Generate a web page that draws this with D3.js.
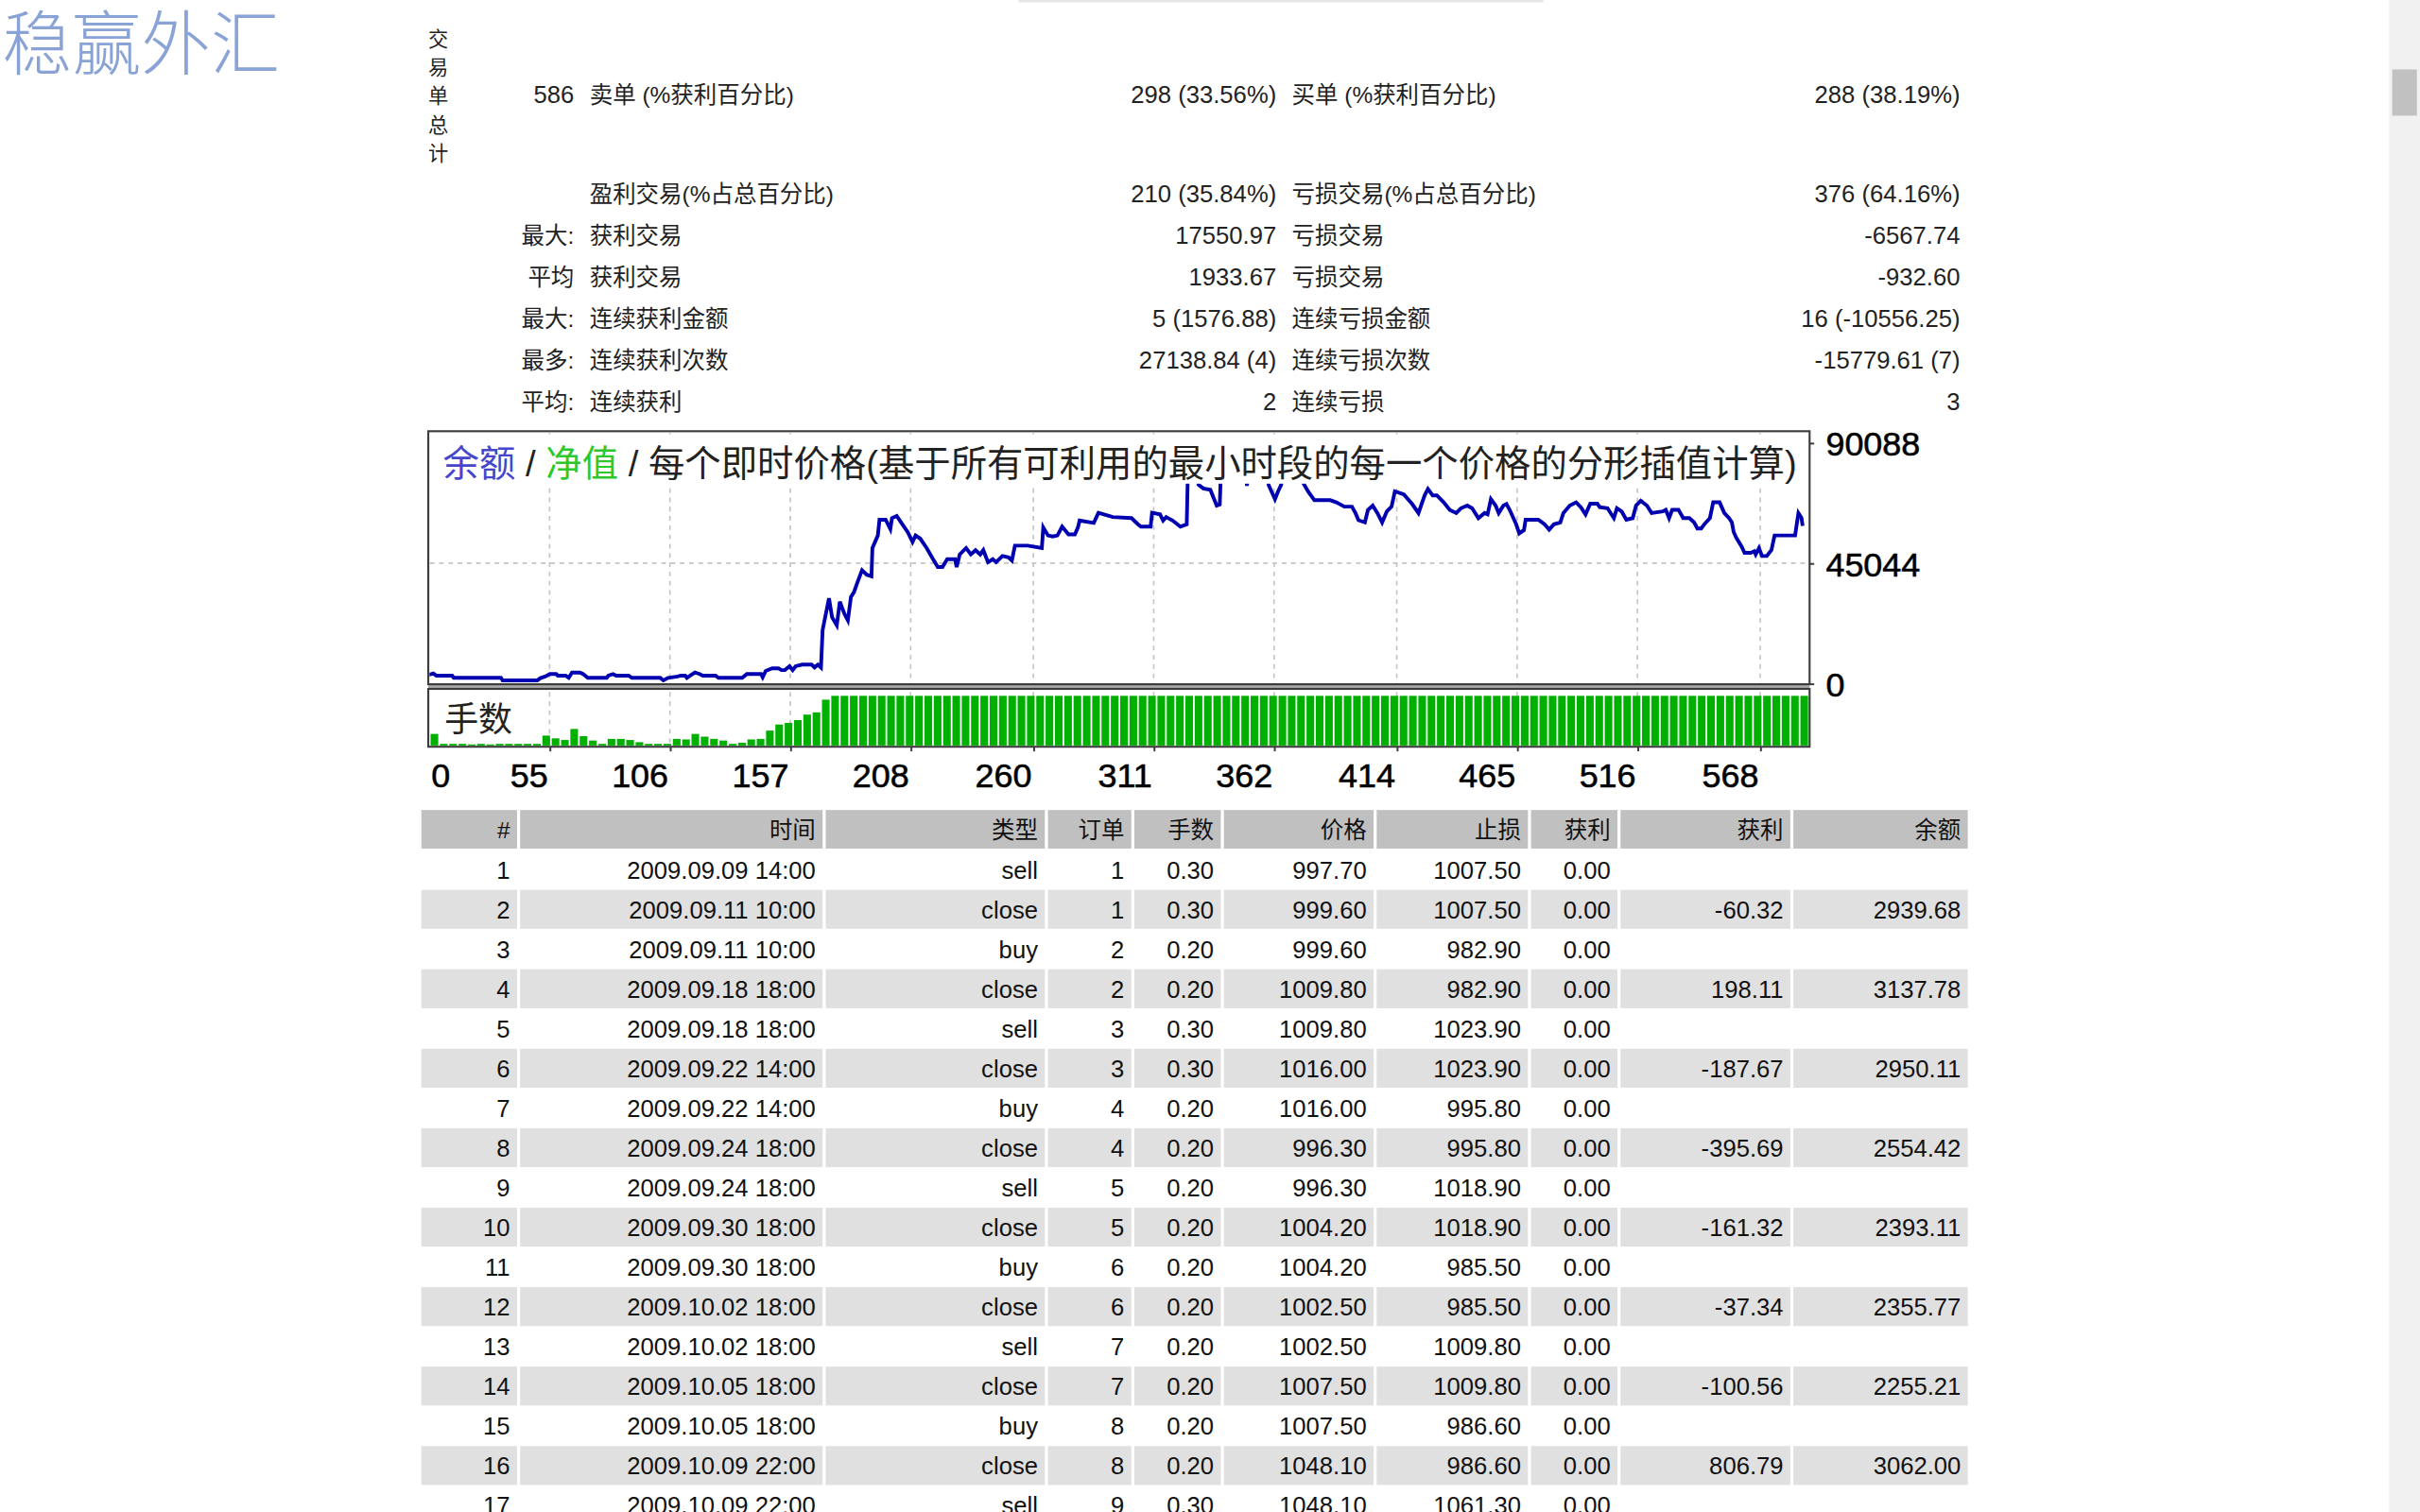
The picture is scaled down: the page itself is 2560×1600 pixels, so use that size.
<!DOCTYPE html>
<html>
<head>
<meta charset="utf-8">
<script src="https://cdn.jsdelivr.net/npm/d3@7"></script>
<style>
html, body { margin: 0; padding: 0; background: #fff; overflow: hidden; }
svg { display: block; }
text { font-family: "Liberation Sans", "Noto Sans CJK SC", sans-serif; }
</style>
</head>
<body>
<script>
// ---- summary block ----
const summaryLead = ["586", "", "最大:", "平均", "最大:", "最多:", "平均:"];
const summaryLabelA = ["卖单 (%获利百分比)", "盈利交易(%占总百分比)", "获利交易", "获利交易", "连续获利金额", "连续获利次数", "连续获利"];
const summaryValueA = ["298 (33.56%)", "210 (35.84%)", "17550.97", "1933.67", "5 (1576.88)", "27138.84 (4)", "2"];
const summaryLabelB = ["买单 (%获利百分比)", "亏损交易(%占总百分比)", "亏损交易", "亏损交易", "连续亏损金额", "连续亏损次数", "连续亏损"];
const summaryValueB = ["288 (38.19%)", "376 (64.16%)", "-6567.74", "-932.60", "16 (-10556.25)", "-15779.61 (7)", "3"];
const verticalTitle = ["交", "易", "单", "总", "计"];

// ---- chart ----
const chartTitleParts = [
  { text: "余额", color: "#4646cc" },
  { text: " / ", color: "#222" },
  { text: "净值", color: "#2ec82e" },
  { text: " / 每个即时价格(基于所有可利用的最小时段的每一个价格的分形插值计算)", color: "#222" }
];
const xTickValues = [0, 55, 106, 157, 208, 260, 311, 362, 414, 465, 516, 568];
const yTickValues = [0, 45044, 90088];
const totalTrades = 586;

// balance: [trade #, balance]
const balance = [
  [0,3000],[4,3300],[5.7,3750],[7,2940],[13.7,2940],[14.4,2120],[34.4,2120],[35.1,1170],[49.8,1170],
  [51.1,2000],[53.1,2590],[55.1,3540],[57.8,3540],[58.5,2940],[61.8,2940],[63.1,2120],[64.5,4100],
  [67.8,4100],[69.2,3540],[71.2,2120],[79.2,2120],[79.9,2940],[81.9,3540],[83.2,2940],[88.5,2940],
  [89.9,2120],[101.9,2120],[103.2,1170],[105.2,2120],[109.2,2590],[110.6,2940],[112.5,2940],[113.2,2120],
  [114.6,2940],[116.6,4100],[118.6,3540],[119.9,2940],[125.3,2940],[126.6,2120],[136.6,2120],[138.6,3540],
  [144.6,3540],[145.3,2350],[146.6,4700],[149.3,5660],[152,5660],[153.3,5000],[154.7,5000],[156.7,6470],
  [158,5000],[159.3,6470],[162,7070],[166,7070],[167.3,6000],[168.7,7070],[170,6000],
  [170.7,20000],[173.4,31900],[174.7,24800],[176.7,21800],[178,30600],[180,25900],[181.4,23600],
  [182.7,32400],[184,34200],[185.4,37700],[187.4,42400],[189.4,40700],[191.4,40100],[191.8,50700],
  [194.1,55400],[194.8,61300],[197.4,61300],[199.4,57800],[200.1,61900],[202.1,62700],[204.1,60100],
  [206.8,56600],[208.8,53000],[210.1,55400],[212.1,54200],[214.8,50700],[217.5,46500],[219.5,43600],
  [221.5,43600],[223.5,46500],[226.8,46500],[227.5,43600],[228.8,48300],[231.5,50700],[233.5,48300],
  [235.5,49900],[237.5,48300],[238.8,49900],[240.8,45400],[242.8,46500],[244.2,45400],[246.9,47700],
  [249.5,47200],[250.9,46000],[252.2,51600],[257.6,51600],[263.6,50700],[264.2,58400],[266.2,55400],
  [268.2,55000],[270.2,55400],[272.2,58700],[274.9,55800],[277.6,55800],[278.9,58400],[279.6,61000],
  [285.6,60100],[287.6,63900],[289.6,63400],[292.3,62700],[293.6,62300],[301.6,61900],[304.3,59600],
  [305.6,58700],[309.7,58700],[310.3,63900],[313.7,63300],[315,61000],[316.3,62300],[319,61000],
  [322.3,58700],[325,59600],[325.5,80000],[329,81000],[330,74400],[332,73000],[335,72500],[337.7,66600],
  [339,67000],[339.5,80000],[349.5,82000],[350.5,74000],[351.5,81000],[359,80000],[359.7,74300],
  [362.4,69000],[363.7,71900],[365,74300],[366,80000],[374,79000],[374.4,75000],[376.4,71900],
  [379.1,68600],[385.8,68600],[388.4,67800],[391.8,66200],[395,66200],[396.5,63800],[397.8,61100],
  [400.5,60300],[401.8,65000],[403.8,66600],[405.8,63800],[407.8,60300],[409.8,64400],[411.8,66200],
  [413.2,71900],[415.2,71300],[417,70800],[420.5,67200],[423.2,63800],[425.8,70400],[427.2,72800],
  [429.2,70400],[431,70400],[433.9,67800],[436.5,64900],[439.2,63800],[441.2,65600],[443.9,66600],
  [445.9,65600],[448.6,61900],[451.2,63800],[452.5,63300],[453.9,69000],[455.9,66600],[457.2,63800],
  [459.2,66600],[460.5,67200],[461.9,64900],[464.6,59600],[465.9,56200],[467.9,57400],[468.6,61300],
  [474,61300],[476.6,59600],[478.6,57600],[480.6,59600],[483.3,60300],[484.6,63800],[487.3,66600],
  [490,67800],[492,66000],[494,63300],[496,67300],[499,67300],[500,66000],[503.3,65600],[506,61900],
  [507.3,65600],[509.3,64400],[511.3,61300],[514,61900],[515.4,66600],[517.4,68400],[520,66600],
  [522,63800],[526.7,64400],[528,65000],[529.4,61900],[530.7,65000],[533.4,65000],[535.4,61900],
  [538,61900],[540,60300],[541.4,58000],[543,58000],[544.7,60000],[546.7,61900],[548.1,67800],
  [550.8,67800],[552.8,63800],[554.8,61900],[556,60300],[556.8,56600],[558.1,54200],[560.1,51300],
  [561.4,48900],[564,48900],[565.5,49500],[566.1,48300],[567.5,50700],[568.8,47700],[570.8,47700],
  [572.8,50000],[574.1,55400],[582.8,55400],[584.2,63800],[585.5,62000],[586,59000]
];

// lots panel, one bar per group of trades
const lotBars = [
  2.1,0.3,0.3,0.3,0.2,0.3,0.2,0.3,0.3,0.3,0.3,0.3,1.8,1.3,1.0,3.0,1.7,0.9,0.3,1.2,
  1.2,1.0,0.6,0.3,0.3,0.3,1.2,1.1,2.1,1.6,1.2,0.9,0.3,0.5,1.1,1.2,2.7,3.8,4.1,4.6,
  5.6,6.0,8.3,9.0,9.0,9.0,9.0,9.0,9.0,9.0,9.0,9.0,9.0,9.0,9.0,9.0,9.0,9.0,9.0,9.0,
  9.0,9.0,9.0,9.0,9.0,9.0,9.0,9.0,9.0,9.0,9.0,9.0,9.0,9.0,9.0,9.0,9.0,9.0,9.0,9.0,
  9.0,9.0,9.0,9.0,9.0,9.0,9.0,9.0,9.0,9.0,9.0,9.0,9.0,9.0,9.0,9.0,9.0,9.0,9.0,9.0,
  9.0,9.0,9.0,9.0,9.0,9.0,9.0,9.0,9.0,9.0,9.0,9.0,9.0,9.0,9.0,9.0,9.0,9.0,9.0,9.0,
  9.0,9.0,9.0,9.0,9.0,9.0,9.0,9.0,9.0,9.0,9.0,9.0,9.0,9.0,9.0,9.0,9.0,9.0,9.0,9.0,
  9.0,9.0,9.0,9.0,9.0,9.0,9.0,9.0
];
const maxLots = 9.0;

// ---- deals table ----
const tableHeader = ["#", "时间", "类型", "订单", "手数", "价格", "止损", "获利", "获利", "余额"];
const dealNo = ["1","2","3","4","5","6","7","8","9","10","11","12","13","14","15","16","17"];
const dealTime = ["2009.09.09 14:00","2009.09.11 10:00","2009.09.11 10:00","2009.09.18 18:00","2009.09.18 18:00",
  "2009.09.22 14:00","2009.09.22 14:00","2009.09.24 18:00","2009.09.24 18:00","2009.09.30 18:00",
  "2009.09.30 18:00","2009.10.02 18:00","2009.10.02 18:00","2009.10.05 18:00","2009.10.05 18:00",
  "2009.10.09 22:00","2009.10.09 22:00"];
const dealType = ["sell","close","buy","close","sell","close","buy","close","sell","close","buy","close","sell","close","buy","close","sell"];
const dealOrder = ["1","1","2","2","3","3","4","4","5","5","6","6","7","7","8","8","9"];
const dealLots = ["0.30","0.30","0.20","0.20","0.30","0.30","0.20","0.20","0.20","0.20","0.20","0.20","0.20","0.20","0.20","0.20","0.30"];
const dealPrice = ["997.70","999.60","999.60","1009.80","1009.80","1016.00","1016.00","996.30","996.30","1004.20",
  "1004.20","1002.50","1002.50","1007.50","1007.50","1048.10","1048.10"];
const dealSL = ["1007.50","1007.50","982.90","982.90","1023.90","1023.90","995.80","995.80","1018.90","1018.90",
  "985.50","985.50","1009.80","1009.80","986.60","986.60","1061.30"];
const dealTP = ["0.00","0.00","0.00","0.00","0.00","0.00","0.00","0.00","0.00","0.00","0.00","0.00","0.00","0.00","0.00","0.00","0.00"];
const dealProfit = ["","-60.32","","198.11","","-187.67","","-395.69","","-161.32","","-37.34","","-100.56","","806.79",""];
const dealBalance = ["","2939.68","","3137.78","","2950.11","","2554.42","","2393.11","","2355.77","","2255.21","","3062.00",""];

// ================= drawing =================
const W = 1568, H = 980;
const svg = d3.select("body").append("svg")
  .attr("width", 2560)
  .attr("height", 1600)
  .attr("viewBox", `0 0 ${W} ${H}`);

svg.append("rect").attr("width", W).attr("height", H).attr("fill", "#fff");

// faint shadow line at the top
svg.append("rect").attr("x", 660).attr("y", 0).attr("width", 340).attr("height", 1.5).attr("fill", "#e4e4e4");

// logo
svg.append("text")
  .attr("x", 1.5).attr("y", 44.5)
  .attr("font-size", 45)
  .attr("font-weight", 300)
  .attr("fill", "#8aa3d6")
  .style("font-family", "'Noto Sans CJK SC', sans-serif")
  .text("稳赢外汇");

// vertical caption
svg.append("g").selectAll("text")
  .data(verticalTitle)
  .join("text")
  .attr("x", 284)
  .attr("y", (d, i) => 30 + i * 18.5)
  .attr("text-anchor", "middle")
  .attr("font-size", 13)
  .attr("fill", "#222")
  .text(d => d);

// summary rows
const sumFont = 15;      // Chinese labels
const numFont = 15.7;    // figures
const rowY = i => (i === 0 ? 62 : 126 + (i - 1) * 27) + 5;
const sum = svg.append("g").attr("font-size", sumFont).attr("fill", "#222");
summaryLead.forEach((d, i) => {
  sum.append("text").attr("x", 372).attr("y", rowY(i)).attr("text-anchor", "end")
    .attr("font-size", i === 0 ? numFont : sumFont).text(d);
  sum.append("text").attr("x", 382).attr("y", rowY(i)).text(summaryLabelA[i]);
  sum.append("text").attr("x", 827).attr("y", rowY(i)).attr("text-anchor", "end")
    .attr("font-size", numFont).text(summaryValueA[i]);
  sum.append("text").attr("x", 837).attr("y", rowY(i)).text(summaryLabelB[i]);
  sum.append("text").attr("x", 1270).attr("y", rowY(i)).attr("text-anchor", "end")
    .attr("font-size", numFont).text(summaryValueB[i]);
});

// ---- chart frame ----
const box = { left: 277.5, right: 1172.5, top: 279.5, mainBottom: 443.5, lotsTop: 446.5, lotsBottom: 484 };

const x = d3.scaleLinear().domain([0, totalTrades]).range([272, 1168]);
const y = d3.scaleLinear().domain([0, 90088]).range([443, 287]);
const yLots = d3.scaleLinear().domain([0, maxLots]).range([483.2, 451]);
const xBar = d3.scaleBand()
  .domain(d3.range(lotBars.length))
  .range([box.left + 1.5, box.right - 1])
  .paddingInner(0.18);

const chart = svg.append("g");

chart.append("rect")
  .attr("x", box.left).attr("y", box.top)
  .attr("width", box.right - box.left).attr("height", box.lotsBottom - box.top)
  .attr("fill", "#fff");

const defs = svg.append("defs");
defs.append("clipPath").attr("id", "mainClip")
  .append("rect")
  .attr("x", box.left + 0.8).attr("y", box.top + 0.8)
  .attr("width", box.right - box.left - 1.6).attr("height", box.mainBottom - box.top - 1.6);

// grid
chart.append("g").selectAll("line")
  .data(xTickValues.filter(d => d > 0))
  .join("line")
  .attr("x1", d => x(d)).attr("x2", d => x(d))
  .attr("y1", box.top + 1).attr("y2", box.lotsBottom - 1)
  .attr("stroke", "#c4c4c4").attr("stroke-width", 1)
  .attr("stroke-dasharray", "3,3");

chart.append("line")
  .attr("x1", box.left + 1).attr("x2", box.right - 1)
  .attr("y1", y(45044)).attr("y2", y(45044))
  .attr("stroke", "#c4c4c4").attr("stroke-width", 1)
  .attr("stroke-dasharray", "3,3");

// balance curve
const valueLine = d3.line()
  .x(d => x(d[0]))
  .y(d => y(d[1]));

chart.append("path")
  .datum(balance)
  .attr("clip-path", "url(#mainClip)")
  .attr("d", valueLine)
  .attr("fill", "none")
  .attr("stroke", "#0000b0")
  .attr("stroke-width", 2.4)
  .attr("stroke-linejoin", "miter");

// title with a white backing, drawn over the curve
const titleBg = chart.append("rect").attr("fill", "#fff");
const title = chart.append("text")
  .attr("x", 287).attr("y", 309)
  .attr("font-size", 23.5);
title.selectAll("tspan")
  .data(chartTitleParts)
  .join("tspan")
  .attr("fill", d => d.color)
  .style("white-space", "pre")
  .text(d => d.text);
const tb = title.node().getBBox();
titleBg.attr("x", box.left + 1).attr("y", box.top + 2)
  .attr("width", tb.x + tb.width + 2 - box.left)
  .attr("height", 313.5 - box.top - 2);

// lots bars
chart.append("g").selectAll("rect")
  .data(lotBars)
  .join("rect")
  .attr("x", (d, i) => xBar(i))
  .attr("width", xBar.bandwidth())
  .attr("y", d => yLots(d))
  .attr("height", d => yLots(0) - yLots(d))
  .attr("fill", "#00b000");

chart.append("text")
  .attr("x", 288).attr("y", 474)
  .attr("font-size", 22)
  .attr("fill", "#222")
  .text("手数");

// panel borders
chart.append("rect")
  .attr("x", box.left).attr("y", box.mainBottom)
  .attr("width", box.right - box.left).attr("height", box.lotsTop - box.mainBottom)
  .attr("fill", "#a8a8a8");
chart.append("rect")
  .attr("x", box.left).attr("y", box.top)
  .attr("width", box.right - box.left).attr("height", box.mainBottom - box.top)
  .attr("fill", "none").attr("stroke", "#3c3c3c").attr("stroke-width", 1.3);
chart.append("rect")
  .attr("x", box.left).attr("y", box.lotsTop)
  .attr("width", box.right - box.left).attr("height", box.lotsBottom - box.lotsTop)
  .attr("fill", "none").attr("stroke", "#3c3c3c").attr("stroke-width", 1.3);

// x axis
const xAxis = d3.axisBottom(x).tickValues(xTickValues).tickSize(3).tickFormat(d3.format("d"));
const gx = chart.append("g")
  .attr("transform", `translate(0, ${box.lotsBottom})`)
  .call(xAxis);
gx.select(".domain").remove();
gx.selectAll(".tick line").attr("stroke", "#3c3c3c").attr("stroke-width", 1.2);
gx.selectAll(".tick text")
  .attr("text-anchor", "end")
  .attr("x", -1.5).attr("y", 26).attr("dy", 0)
  .attr("font-size", 22).attr("fill", "#000")
  .attr("stroke", "#000").attr("stroke-width", 0.35)
  .style("font-family", "'Liberation Sans', sans-serif");
gx.selectAll(".tick").filter(d => d === 0).select("line").remove();
gx.selectAll(".tick").filter(d => d === 0).select("text")
  .attr("text-anchor", "start").attr("x", box.left + 1.5 - x(0));

// y axis on the right
const yAxis = d3.axisRight(y).tickValues(yTickValues).tickSize(3).tickFormat(d3.format("d"));
const gy = chart.append("g")
  .attr("transform", `translate(${box.right}, 0)`)
  .call(yAxis);
gy.select(".domain").remove();
gy.selectAll(".tick line").attr("stroke", "#3c3c3c").attr("stroke-width", 1.2);
gy.selectAll(".tick text")
  .attr("x", 10.5).attr("dy", "0.36em")
  .attr("font-size", 22).attr("fill", "#000")
  .attr("stroke", "#000").attr("stroke-width", 0.35)
  .style("font-family", "'Liberation Sans', sans-serif");

// ---- deals table ----
const colRight = [335, 533, 677, 733, 791, 890, 990, 1048, 1160, 1275];
const colLeft = colRight.map((r, i) => i === 0 ? 273 : colRight[i - 1] + 2);
const headTop = 525, headH = 25, rowTop = 551, rowH = 25.75;
const cols = [dealNo, dealTime, dealType, dealOrder, dealLots, dealPrice, dealSL, dealTP, dealProfit, dealBalance];

const table = svg.append("g").attr("font-size", numFont).attr("fill", "#111");

table.append("g").selectAll("rect")
  .data(tableHeader)
  .join("rect")
  .attr("x", (d, i) => colLeft[i]).attr("y", headTop)
  .attr("width", (d, i) => colRight[i] - colLeft[i]).attr("height", headH)
  .attr("fill", "#c0c0c0");
table.append("g").selectAll("text")
  .data(tableHeader)
  .join("text")
  .attr("x", (d, i) => colRight[i] - 4.5).attr("y", headTop + headH / 2 + 5.5)
  .attr("text-anchor", "end")
  .attr("font-size", sumFont)
  .text(d => d);

dealNo.forEach((n, r) => {
  const top = rowTop + r * rowH;
  if (r % 2 === 1) {
    table.append("g").selectAll("rect")
      .data(colRight)
      .join("rect")
      .attr("x", (d, i) => colLeft[i]).attr("y", top)
      .attr("width", (d, i) => d - colLeft[i]).attr("height", rowH - 0.5)
      .attr("fill", "#e0e0e0");
  }
  table.append("g").selectAll("text")
    .data(cols.map(c => c[r]))
    .join("text")
    .attr("x", (d, i) => colRight[i] - 4.5).attr("y", top + rowH / 2 + 5.5)
    .attr("text-anchor", "end")
    .text(d => d);
});

// scrollbar
svg.append("rect").attr("x", 1548).attr("y", 0).attr("width", 20).attr("height", H).attr("fill", "#f1f1f1");
svg.append("rect").attr("x", 1550).attr("y", 45).attr("width", 16).attr("height", 30).attr("fill", "#c1c1c1");
</script>
</body>
</html>
